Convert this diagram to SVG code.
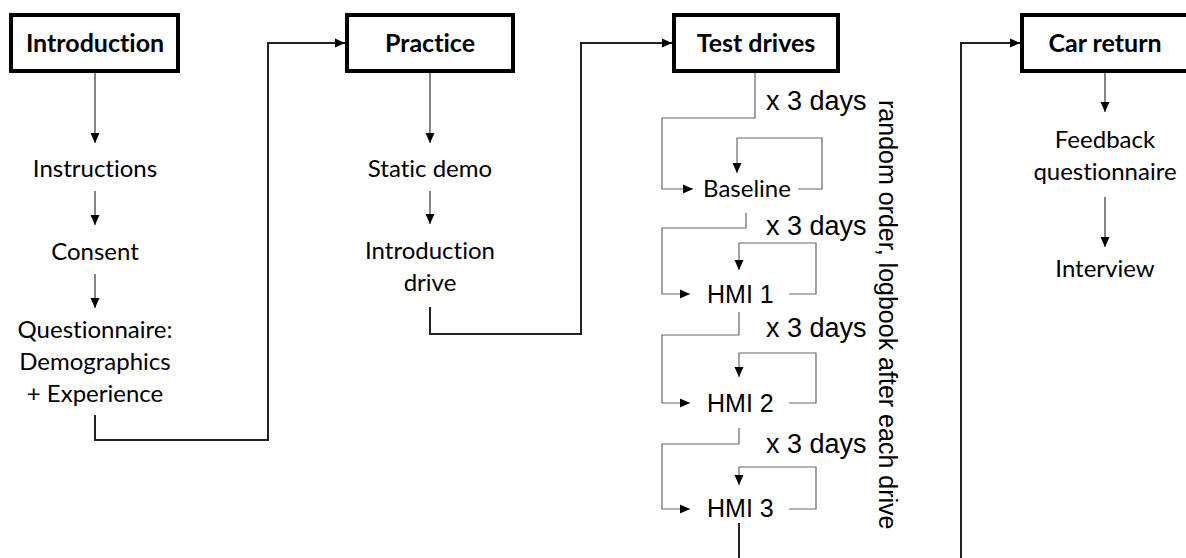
<svg xmlns="http://www.w3.org/2000/svg" width="1186" height="558" viewBox="0 0 1186 558">
<style>
.box{fill:#fff;stroke:#000;stroke-width:4}
.title{font-family:Lato,"Liberation Sans",sans-serif;font-weight:bold;font-size:25px;fill:#000;text-anchor:middle;font-variant-ligatures:none}
.lbl{font-family:Lato,"Liberation Sans",sans-serif;font-size:24px;fill:#000;text-anchor:middle;font-variant-ligatures:none}
.ar{font-family:"Liberation Sans",Arial,sans-serif;font-size:25px;fill:#000}
.days{font-family:"Liberation Sans",Arial,sans-serif;font-size:27px;fill:#000}
.thin{fill:none;stroke:#333;stroke-width:1.2}
.loop{fill:none;stroke:#666;stroke-width:1.2}
.main{fill:none;stroke:#222;stroke-width:2}
</style>
<defs>
<marker id="ah" markerUnits="userSpaceOnUse" markerWidth="10" markerHeight="10" viewBox="0 0 10 10" refX="10" refY="5" orient="auto">
<path d="M0,0.5 L10,5 L0,9.5 Z" fill="#000"/>
</marker>
</defs>
<rect width="1186" height="558" fill="#fff"/>
<g id="connectors">
<path class="thin" d="M95,73 V143" marker-end="url(#ah)"/>
<path class="thin" d="M95,191 V225" marker-end="url(#ah)"/>
<path class="thin" d="M95,274 V308" marker-end="url(#ah)"/>
<path class="main" d="M95,415 V440 H268 V43 H345" marker-end="url(#ah)"/>
<path class="thin" d="M430,73 V143" marker-end="url(#ah)"/>
<path class="thin" d="M430,191 V224" marker-end="url(#ah)"/>
<path class="main" d="M430,307 V334 H581 V43 H672" marker-end="url(#ah)"/>
<path class="loop" d="M755,73 V118 H662 V189 H693" marker-end="url(#ah)"/>
<path class="loop" d="M798,189 H822 V138 H737 V173" marker-end="url(#ah)"/>
<path class="loop" d="M746,213 V228 H662 V294 H690" marker-end="url(#ah)"/>
<path class="loop" d="M789,294 H816 V243 H739 V270" marker-end="url(#ah)"/>
<path class="loop" d="M739,312 V335 H662 V403 H690" marker-end="url(#ah)"/>
<path class="loop" d="M789,403 H816 V353 H739 V377" marker-end="url(#ah)"/>
<path class="loop" d="M739,428 V444 H662 V509 H690" marker-end="url(#ah)"/>
<path class="loop" d="M789,509 H816 V467 H739 V485" marker-end="url(#ah)"/>
<path class="main" d="M739,523 V560"/>
<path class="main" d="M961,560 V43 H1020" marker-end="url(#ah)"/>
<path class="thin" d="M1105,73 V112" marker-end="url(#ah)"/>
<path class="thin" d="M1105,197 V247" marker-end="url(#ah)"/>
</g>
<g id="introduction">
<rect class="box" x="11" y="15" width="167" height="56"/>
<text class="title" x="95" y="52">Introduction</text>
</g>
<g id="instructions"><text class="lbl" x="95" y="177">Instructions</text></g>
<g id="consent"><text class="lbl" x="95" y="260">Consent</text></g>
<g id="questionnaire">
<text class="lbl" x="95" y="338">Questionnaire:</text>
<text class="lbl" x="95" y="370">Demographics</text>
<text class="lbl" x="95" y="402">+ Experience</text>
</g>
<g id="practice">
<rect class="box" x="347" y="15" width="166" height="56"/>
<text class="title" x="430" y="52">Practice</text>
</g>
<g id="static-demo"><text class="lbl" x="430" y="177">Static demo</text></g>
<g id="introduction-drive">
<text class="lbl" x="430" y="259">Introduction</text>
<text class="lbl" x="430" y="291">drive</text>
</g>
<g id="test-drives">
<rect class="box" x="674" y="15" width="164" height="56"/>
<text class="title" x="756" y="52">Test drives</text>
</g>
<g id="baseline"><text class="lbl" x="747" y="197">Baseline</text></g>
<g id="hmi1"><text class="ar" x="707" y="303">HMI 1</text></g>
<g id="hmi2"><text class="ar" x="707" y="412">HMI 2</text></g>
<g id="hmi3"><text class="ar" x="707" y="517">HMI 3</text></g>
<g id="repeat-labels">
<text class="days" x="766" y="110">x 3 days</text>
<text class="days" x="766" y="235">x 3 days</text>
<text class="days" x="766" y="337">x 3 days</text>
<text class="days" x="766" y="453">x 3 days</text>
</g>
<g id="order-note"><text class="ar" transform="translate(879,100) rotate(90)">random order, logbook after each drive</text></g>
<g id="car-return">
<rect class="box" x="1022" y="15" width="200" height="56"/>
<text class="title" x="1105" y="52">Car return</text>
</g>
<g id="feedback">
<text class="lbl" x="1105" y="148">Feedback</text>
<text class="lbl" x="1105" y="180">questionnaire</text>
</g>
<g id="interview"><text class="lbl" x="1105" y="277">Interview</text></g>
</svg>
